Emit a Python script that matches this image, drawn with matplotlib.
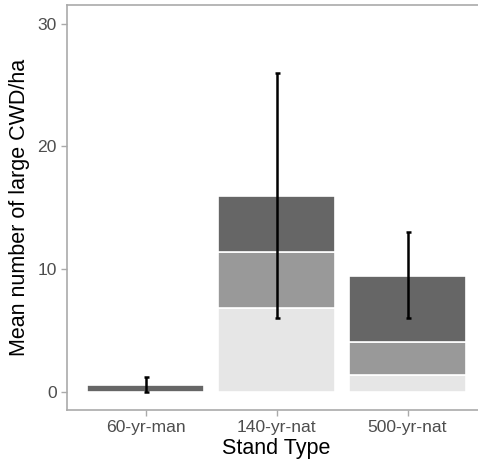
import matplotlib.pyplot as plt
import numpy as np

plt.rcParams['font.family'] = ['Liberation Sans', 'DejaVu Sans']

stands = ["60-yr-man", "140-yr-nat", "500-yr-nat"]
# stacked components, bottom to top
light = [0.0, 6.8, 1.35]
mid = [0.0, 4.55, 2.7]
dark = [0.5, 4.6, 5.4]
err_lo = [0.0, 6.0, 6.0]
err_hi = [1.2, 26.0, 13.0]
err_mid = [0.5, 16.0, 9.5]

fig = plt.figure(figsize=(4.78, 4.62), dpi=100)
ax = fig.add_axes([0.140, 0.1126, 0.877, 0.876])

x = np.arange(1, len(stands) + 1)
w = 0.9
bottom = np.zeros(len(stands))
for vals, col in [(light, '#E6E6E6'), (mid, '#999999'), (dark, '#666666')]:
    vals = np.array(vals)
    ax.bar(x, vals, w, bottom=bottom, color=col, edgecolor='white', linewidth=1.2, zorder=2)
    bottom += vals

err_mid = np.array(err_mid)
yerr = [err_mid - np.array(err_lo), np.array(err_hi) - err_mid]
ax.errorbar(x, err_mid, yerr=yerr, fmt='none', ecolor='black', elinewidth=1.8,
            capsize=1.8, capthick=1.8, zorder=3)

ax.set_xlim(0.4, 3.6)
ax.set_ylim(-1.5, 31.5)
ax.set_xticks(x)
ax.set_xticklabels(stands)
ax.set_yticks([0, 10, 20, 30])
ax.tick_params(colors='#aaaaaa', labelcolor='#4D4D4D', labelsize=12.6, length=4, width=1)
for s in ax.spines.values():
    s.set_color('#aaaaaa')
    s.set_linewidth(1.2)

ax.set_xlabel("Stand Type", fontsize=15.5, labelpad=2)
ax.set_ylabel("Mean number of large CWD/ha", fontsize=15.5, labelpad=5)

fig.savefig("out.png", dpi=100)
